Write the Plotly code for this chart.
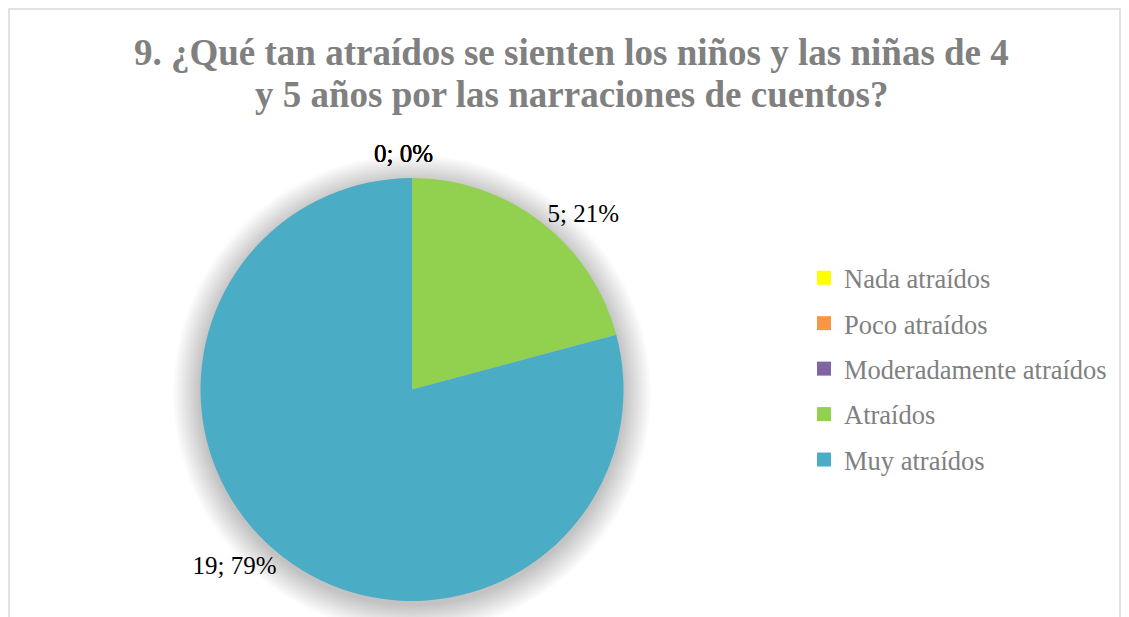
import plotly.graph_objects as go

# Chart data
labels = ["Nada atraídos", "Poco atraídos", "Moderadamente atraídos", "Atraídos", "Muy atraídos"]
values = [0, 0, 0, 5, 19]
colors = ["#FFFF00", "#F79646", "#8064A2", "#92D050", "#4BACC6"]

title_lines = ["9. ¿Qué tan atraídos se sienten los niños y las niñas de 4",
               "y 5 años por las narraciones de cuentos?"]

# the page body adds an 8px margin, so the figure is a bit smaller than the window
W, H = 1121, 609
OFF = 8
serif = "Liberation Serif, Times New Roman, serif"
gray = "#808080"

# pie placement in page pixels
CX, CY, R = 412, 389.5, 211.5


def px(x):
    return (x - OFF) / W


def py(y):
    return 1 - (y - OFF) / H


total = sum(values)
# zero slices are labelled separately at the top of the pie
templates = ["%{value}; %{percent:.0%}" if v else "" for v in values]

fig = go.Figure()

fig.add_trace(go.Pie(
    labels=labels,
    values=values,
    marker=dict(colors=colors, line=dict(width=0)),
    sort=False,
    direction="clockwise",
    rotation=0,
    textposition="outside",
    texttemplate=templates,
    textfont=dict(family=serif, size=25, color="black"),
    domain=dict(x=[px(CX - R), px(CX + R)], y=[py(CY + R), py(CY - R)]),
    showlegend=False,
    hoverinfo="label+value+percent",
))

# legend entries (one per category, so the spacing can follow the original)
for lab, col in zip(labels, colors):
    fig.add_trace(go.Scatter(
        x=[None], y=[None], mode="markers", name=lab,
        legendgroup=lab,
        marker=dict(symbol="square", size=14, color=col),
        showlegend=True,
    ))

for lab, v in zip(labels, values):
    if v == 0:
        fig.add_annotation(
            x=px(403), y=py(153), xref="paper", yref="paper",
            xanchor="center", yanchor="middle",
            text=f"{v}; {round(100 * v / total)}%", showarrow=False,
            font=dict(family=serif, size=25, color="black"),
        )

for i, line in enumerate(title_lines):
    fig.add_annotation(
        x=px(571), y=py(52 + 42 * i), xref="paper", yref="paper",
        xanchor="center", yanchor="middle",
        text=f"<b>{line}</b>", showarrow=False,
        font=dict(family=serif, size=37, color=gray),
    )

# soft shadow behind the pie
shapes = []
for k in range(20):
    d = 1 + 1.4 * k
    shapes.append(dict(
        type="circle", xref="paper", yref="paper", layer="below",
        x0=px(CX - R - d), x1=px(CX + R + d),
        y0=py(CY + 4 + R + d), y1=py(CY + 4 - R - d),
        fillcolor="black", opacity=0.013, line=dict(width=0),
    ))

shapes.append(dict(
    type="rect", xref="paper", yref="paper",
    x0=1 / W, x1=px(1120), y0=-0.05, y1=1 - 1 / H,
    line=dict(color="#D9D9D9", width=1.5),
))

fig.update_layout(
    width=W, height=H,
    margin=dict(l=0, r=0, t=0, b=0),
    paper_bgcolor="white",
    plot_bgcolor="white",
    legend=dict(
        x=px(804), y=py(254), xanchor="left", yanchor="top",
        font=dict(family=serif, size=26.5, color=gray),
        traceorder="grouped",
        tracegroupgap=8,
        bgcolor="rgba(0,0,0,0)",
    ),
    xaxis=dict(visible=False),
    yaxis=dict(visible=False),
    shapes=shapes,
)

fig.write_html("out.html")
